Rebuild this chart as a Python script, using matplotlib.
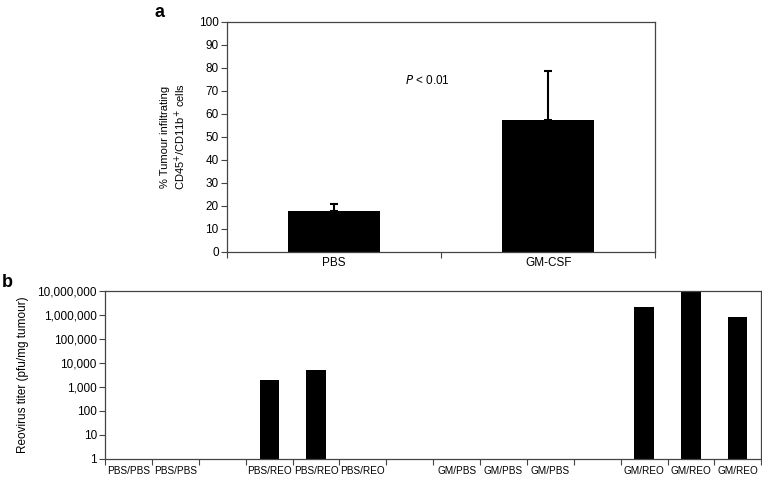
import numpy as np
import matplotlib
matplotlib.use('Agg')
import matplotlib.pyplot as plt
from matplotlib.ticker import FixedLocator, FuncFormatter

plt.rcParams['font.family'] = ['Liberation Sans', 'DejaVu Sans']

# panel a data
groups_a = ['PBS', 'GM-CSF']
means_a = [18, 57.5]
errs_a = [3, 21]

# panel b data (0 = no detectable titer)
labels_b = ['PBS/PBS', 'PBS/PBS', '', 'PBS/REO', 'PBS/REO', 'PBS/REO', '',
            'GM/PBS', 'GM/PBS', 'GM/PBS', '', 'GM/REO', 'GM/REO', 'GM/REO']
titers_b = [0, 0, 0, 2000, 5000, 0, 0, 0, 0, 0, 0, 2100000, 10000000, 830000]

spine_col = '#444444'

fig = plt.figure(figsize=(7.62, 4.78), dpi=100)

# ---- panel a ----
ax1 = fig.add_axes([0.298, 0.473, 0.562, 0.481])
x_a = np.arange(len(groups_a))
ax1.bar(x_a, means_a, width=0.43, color='black', zorder=2)
ax1.errorbar(x_a, means_a, yerr=[np.zeros(len(errs_a)), errs_a], fmt='none',
             ecolor='black', elinewidth=1.5, capsize=3, capthick=1.5, zorder=3)
ax1.set_xlim(-0.5, 1.5)
ax1.set_ylim(0, 100)
ax1.set_yticks(np.arange(0, 101, 10))
ax1.xaxis.set_major_locator(FixedLocator([-0.5, 0.5, 1.5]))
ax1.set_xticklabels([])
ax1.xaxis.set_minor_locator(FixedLocator(x_a))
ax1.xaxis.set_minor_formatter(FuncFormatter(lambda v, p: groups_a[int(round(v))]))
ax1.tick_params(axis='x', which='minor', length=0, labelsize=8.5, pad=4)
ax1.tick_params(axis='x', which='major', length=4, color=spine_col)
ax1.tick_params(axis='y', length=4, labelsize=8.5, color=spine_col, pad=2)
for s in ax1.spines.values():
    s.set_color(spine_col)
    s.set_linewidth(0.9)
ax1.set_ylabel('% Tumour infiltrating\nCD45$^{+}$/CD11b$^{+}$ cells', fontsize=8, labelpad=8)
ax1.text(0.435, 74.5, r'$P$ < 0.01', fontsize=8.5, ha='center', va='center',
         math_fontfamily='dejavusans')
fig.text(0.203, 0.974, 'a', fontsize=13, fontweight='bold', ha='left', va='center')

# ---- panel b ----
ax2 = fig.add_axes([0.138, 0.040, 0.861, 0.351])
x_b = np.arange(len(labels_b))
vals = np.array(titers_b, dtype=float)
vals[vals == 0] = np.nan
ax2.bar(x_b, vals, width=0.41, color='black', bottom=0, zorder=2)
ax2.set_yscale('log')
ax2.set_ylim(1, 1e7)
ax2.set_xlim(-0.5, len(labels_b) - 0.5)
ax2.yaxis.set_major_locator(FixedLocator([10 ** k for k in range(8)]))
ax2.yaxis.set_minor_locator(FixedLocator([]))
ax2.yaxis.set_major_formatter(FuncFormatter(lambda v, p: f'{int(round(v)):,}'))
ax2.xaxis.set_major_locator(FixedLocator(np.arange(-0.5, len(labels_b), 1.0)))
ax2.set_xticklabels([])
ax2.xaxis.set_minor_locator(FixedLocator(x_b))
ax2.xaxis.set_minor_formatter(FuncFormatter(lambda v, p: labels_b[int(round(v))]))
ax2.tick_params(axis='x', which='minor', length=0, labelsize=7.2, pad=5)
ax2.tick_params(axis='x', which='major', length=4, color=spine_col)
ax2.tick_params(axis='y', length=4, labelsize=8.5, color=spine_col, pad=2)
for s in ax2.spines.values():
    s.set_color(spine_col)
    s.set_linewidth(0.9)
ax2.set_ylabel('Reovirus titer (pfu/mg tumour)', fontsize=8.5, labelpad=6)
fig.text(0.002, 0.41, 'b', fontsize=13, fontweight='bold', ha='left', va='center')

fig.savefig('out.png', dpi=100)
